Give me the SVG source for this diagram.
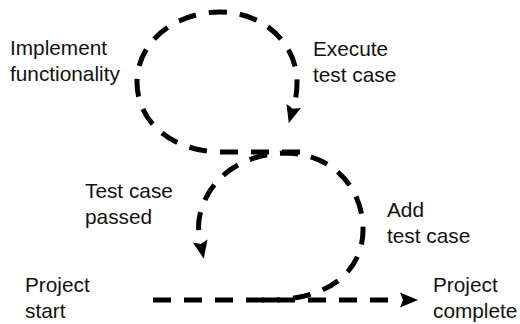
<svg xmlns="http://www.w3.org/2000/svg" width="520" height="324" viewBox="0 0 520 324">
  <style>
    .flow { fill: none; stroke: #000; stroke-width: 5; stroke-dasharray: 18 13; stroke-linecap: butt; }
    .label { font-family: "Liberation Sans", Arial, Helvetica, sans-serif; font-size: 20.8px; fill: #111; }
  </style>
  <defs>
    <marker id="head" markerUnits="userSpaceOnUse" markerWidth="24" markerHeight="18" viewBox="0 -9 24 18" refX="0" refY="0" orient="auto">
      <path d="M1,-7.5 L19,0 L1,7.5 L4,0 Z" fill="#000"/>
    </marker>
  </defs>

  <g id="connectors">
    <!-- main timeline -->
    <path class="flow" d="M153,300 L399,300" marker-end="url(#head)"/>
    <!-- lower loop: add test case / test case passed -->
    <path class="flow" d="M262,300 C330,302 364,270 363,228 C362,185 330,153 285,153 C240,154 205,180 199,220 C198,229 199,235 200,240" marker-end="url(#head)"/>
    <!-- upper loop: implement functionality / execute test case -->
    <path class="flow" d="M300,152 L222,152 C172,152 137,122 137,82 C137,42 175,12 220,12 C265,12 297,45 297,82 C297,91 296,98 294,105" marker-end="url(#head)"/>
  </g>

  <g id="implement">
    <text class="label" x="10" y="55">Implement</text>
    <text class="label" x="10" y="81">functionality</text>
  </g>
  <g id="execute">
    <text class="label" x="313" y="56">Execute</text>
    <text class="label" x="313" y="82">test case</text>
  </g>
  <g id="passed">
    <text class="label" x="85" y="198">Test case</text>
    <text class="label" x="85" y="224">passed</text>
  </g>
  <g id="add">
    <text class="label" x="387" y="217">Add</text>
    <text class="label" x="387" y="243">test case</text>
  </g>
  <g id="start">
    <text class="label" x="25" y="292">Project</text>
    <text class="label" x="25" y="318">start</text>
  </g>
  <g id="complete">
    <text class="label" x="433" y="292">Project</text>
    <text class="label" x="433" y="318">complete</text>
  </g>
</svg>
